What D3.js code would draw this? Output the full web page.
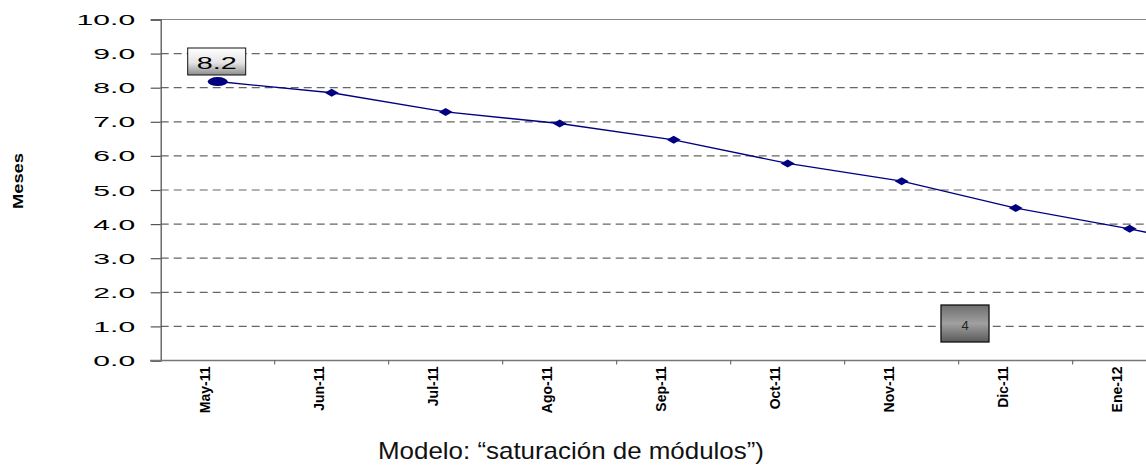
<!DOCTYPE html>
<html>
<head>
<meta charset="utf-8">
<script src="https://cdn.jsdelivr.net/npm/d3@7"></script>
<style>
  body { margin: 0; background: #fff; }
  svg { display: block; }
</style>
</head>
<body>
<svg width="1146" height="470"></svg>
<script>
// months shown on the x axis (the last one falls outside the visible area)
var months = ["May-11", "Jun-11", "Jul-11", "Ago-11", "Sep-11", "Oct-11", "Nov-11", "Dic-11", "Ene-12", "Feb-12"];
var meses = [8.18, 7.85, 7.29, 6.95, 6.47, 5.78, 5.26, 4.47, 3.86, 3.16];
var yTicks = [0, 1, 2, 3, 4, 5, 6, 7, 8, 9, 10];
var firstLabel = "8.2";
var boxLabel = "4";
var yTitle = "Meses";
var caption = "Modelo: \u201csaturación de módulos\u201d)";

var W = 1146;
var svg = d3.select("svg");
// note: "top" is a reserved global in browsers, so plotTop/plotBottom
var plotLeft = 160.7, step = 114, plotTop = 19.5, plotBottom = 360.5;

var x = d3.scaleBand()
    .domain(months)
    .range([plotLeft, plotLeft + step * months.length])
    .padding(0);
var y = d3.scaleLinear()
    .domain([0, 10])
    .range([plotBottom, plotTop]);

var defs = svg.append("defs");
var g1 = defs.append("linearGradient").attr("id", "silver").attr("x1", 0).attr("y1", 0).attr("x2", 0).attr("y2", 1);
g1.append("stop").attr("offset", "0%").attr("stop-color", "#ffffff");
g1.append("stop").attr("offset", "55%").attr("stop-color", "#e4e4e4");
g1.append("stop").attr("offset", "100%").attr("stop-color", "#8c8c8c");
var g2 = defs.append("linearGradient").attr("id", "dark").attr("x1", 0).attr("y1", 0).attr("x2", 0).attr("y2", 1);
g2.append("stop").attr("offset", "0%").attr("stop-color", "#6e6e6e");
g2.append("stop").attr("offset", "50%").attr("stop-color", "#a0a0a0");
g2.append("stop").attr("offset", "100%").attr("stop-color", "#5a5a5a");

// gridlines
svg.append("g").selectAll("line")
    .data(yTicks.filter(function(d){ return d > 0 && d < 10; }))
    .enter().append("line")
    .attr("x1", plotLeft).attr("x2", W)
    .attr("y1", function(d){ return y(d); })
    .attr("y2", function(d){ return y(d); })
    .attr("stroke", "#666")
    .attr("stroke-width", 1.2)
    .attr("stroke-dasharray", "8,5");

// top border
svg.append("line")
    .attr("x1", plotLeft).attr("x2", W)
    .attr("y1", y(10)).attr("y2", y(10))
    .attr("stroke", "#888").attr("stroke-width", 1.2);

// y axis
var yAxis = svg.append("g")
    .attr("transform", "translate(" + plotLeft + ",0)")
    .call(d3.axisLeft(y).tickValues(yTicks).tickSize(10).tickFormat(d3.format(".1f")));
yAxis.select(".domain").attr("stroke", "#555").attr("stroke-width", 1.3);
yAxis.selectAll(".tick line").attr("stroke", "#555").attr("stroke-width", 1.2);
yAxis.selectAll(".tick text")
    .attr("x", null).attr("dy", null)
    .attr("transform", "translate(-25.5,5) scale(2.15,1)")
    .attr("fill", "#000")
    .style("font-family", "'Liberation Sans', Arial, sans-serif")
    .style("font-size", "14px")
    .attr("text-anchor", "end");

// x axis
svg.append("line")
    .attr("x1", 150).attr("x2", W)
    .attr("y1", plotBottom).attr("y2", plotBottom)
    .attr("stroke", "#777").attr("stroke-width", 1.3);
svg.append("g").selectAll("line")
    .data(months)
    .enter().append("line")
    .attr("x1", function(d){ return x(d) + step; })
    .attr("x2", function(d){ return x(d) + step; })
    .attr("y1", plotBottom).attr("y2", plotBottom + 4)
    .attr("stroke", "#555");

// only the month labels that land inside the picture
svg.append("g").selectAll("text")
    .data(months.filter(function(d){ return x(d) + x.bandwidth() / 2 < W; }))
    .enter().append("text")
    .attr("transform", function(d){
        return "translate(" + (x(d) + x.bandwidth() / 2 - 8) + "," + (plotBottom + 6) + ") rotate(-90)";
    })
    .attr("text-anchor", "end")
    .style("font-family", "'Liberation Sans', Arial, sans-serif")
    .style("font-size", "14px")
    .style("font-weight", "bold")
    .text(function(d){ return d; });

// series line
var line = d3.line()
    .x(function(d, i){ return x(months[i]) + x.bandwidth() / 2; })
    .y(function(d){ return y(d); });
svg.append("path")
    .datum(meses)
    .attr("d", line)
    .attr("fill", "none")
    .attr("stroke", "#000080")
    .attr("stroke-width", 1.4);

svg.append("g").selectAll("path")
    .data(meses.slice(1))
    .enter().append("path")
    .attr("d", "M-7,0L0,-4L7,0L0,4Z")
    .attr("transform", function(d, i){
        return "translate(" + (x(months[i + 1]) + x.bandwidth() / 2) + "," + y(d) + ")";
    })
    .attr("fill", "#000080");

svg.append("ellipse")
    .attr("cx", x(months[0]) + x.bandwidth() / 2)
    .attr("cy", y(meses[0]))
    .attr("rx", 10).attr("ry", 4.5)
    .attr("fill", "#000080");

// data label of first point
var lx = x(months[0]) + x.bandwidth() / 2 - 1;
svg.append("rect")
    .attr("x", lx - 29).attr("y", 48)
    .attr("width", 58).attr("height", 27)
    .attr("fill", "url(#silver)")
    .attr("stroke", "#111").attr("stroke-width", 1);
svg.append("text")
    .attr("transform", "translate(" + lx + ",68.5) scale(1.8,1)")
    .attr("text-anchor", "middle")
    .style("font-family", "'Liberation Sans', Arial, sans-serif")
    .style("font-size", "16px")
    .text(firstLabel);

// dark label box
svg.append("rect")
    .attr("x", 941).attr("y", 305)
    .attr("width", 48).attr("height", 37)
    .attr("fill", "url(#dark)")
    .attr("stroke", "#111").attr("stroke-width", 1.3);
svg.append("text")
    .attr("x", 965).attr("y", 330)
    .attr("text-anchor", "middle")
    .attr("fill", "#222")
    .style("font-family", "'Liberation Sans', Arial, sans-serif")
    .style("font-size", "13px")
    .text(boxLabel);

// y title
svg.append("text")
    .attr("transform", "translate(23,181) rotate(-90)")
    .attr("text-anchor", "middle")
    .attr("textLength", 56)
    .attr("lengthAdjust", "spacingAndGlyphs")
    .style("font-family", "'Liberation Sans', Arial, sans-serif")
    .style("font-size", "14px")
    .style("font-weight", "bold")
    .text(yTitle);

// caption
svg.append("text")
    .attr("x", 571).attr("y", 459)
    .attr("text-anchor", "middle")
    .attr("textLength", 386)
    .attr("lengthAdjust", "spacingAndGlyphs")
    .attr("fill", "#111")
    .style("font-family", "'Liberation Sans Narrow', 'Arial Narrow', 'Liberation Sans', sans-serif")
    .style("font-size", "24px")
    .text(caption);
</script>
</body>
</html>
